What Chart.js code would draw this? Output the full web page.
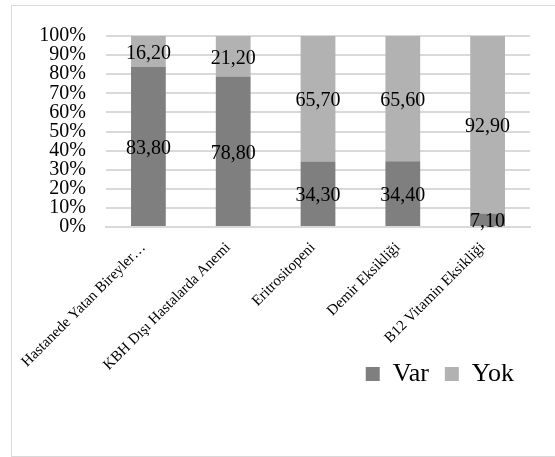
<!DOCTYPE html>
<html>
<head>
<meta charset="utf-8">
<script src="https://cdn.jsdelivr.net/npm/chart.js@4"></script>
<style>
  body { margin: 0; background: #fff; }
  #wrap {
    position: absolute; left: 11px; top: 5px;
    width: 560px; height: 452px;
    box-sizing: border-box; border: 1px solid #d9d9d9;
  }
</style>
</head>
<body>
<div id="wrap"><canvas id="chart1"></canvas></div>
<script>
const categories = ['Hastanede Yatan Bireyler…', 'KBH Dışı Hastalarda Anemi', 'Eritrositopeni', 'Demir Eksikliği', 'B12 Vitamin Eksikliği'];
const varValues = [83.8, 78.8, 34.3, 34.4, 7.1];
const yokValues = [16.2, 21.2, 65.7, 65.6, 92.9];
const yTicks = [0, 10, 20, 30, 40, 50, 60, 70, 80, 90, 100];

Chart.defaults.font.family = '"Liberation Serif", "Times New Roman", serif';
Chart.defaults.color = '#000';

// value labels in the middle of each segment
const valueLabels = {
    id: 'valueLabels',
    afterDatasetsDraw(chart) {
        const ctx = chart.ctx;
        ctx.save();
        ctx.font = '20px "Liberation Serif"';
        ctx.fillStyle = '#000';
        ctx.textAlign = 'center';
        ctx.textBaseline = 'middle';
        chart.data.datasets.forEach((ds, i) => {
            chart.getDatasetMeta(i).data.forEach((bar, j) => {
                const p = bar.getCenterPoint();
                ctx.fillText(ds.data[j].toFixed(2).replace('.', ','), p.x, p.y + 2.5);
            });
        });
        ctx.restore();
    }
};

const ctx1 = document.getElementById('chart1').getContext('2d');
const chart1 = new Chart(ctx1, {
    type: 'bar',
    data: {
        labels: categories,
        datasets: [{
            label: 'Var',
            data: varValues,
            backgroundColor: '#7f7f7f',
            barPercentage: 0.41,
            categoryPercentage: 1
        }, {
            label: 'Yok',
            data: yokValues,
            backgroundColor: '#b2b2b2',
            barPercentage: 0.41,
            categoryPercentage: 1
        }]
    },
    options: {
        responsive: true,
        maintainAspectRatio: false,
        animation: false,
        layout: {
            padding: { left: 27, right: 40, top: 26, bottom: 59 }
        },
        plugins: {
            legend: {
                display: true,
                position: 'bottom',
                align: 'end',
                labels: {
                    font: { size: 26 },
                    boxWidth: 14,
                    boxHeight: 14,
                    padding: 16
                }
            },
            tooltip: { enabled: false }
        },
        scales: {
            x: {
                stacked: true,
                grid: { display: false },
                border: { color: '#d9d9d9', width: 2 },
                ticks: {
                    minRotation: 45,
                    maxRotation: 45,
                    autoSkip: false,
                    padding: 4,
                    labelOffset: -5,
                    font: { size: 15 }
                },
                afterFit: (scale) => {
                    // let the rotated labels run past the plot edges like in Excel
                    scale.height = 118;
                    scale.paddingLeft = 0;
                    scale.paddingRight = 0;
                    scale._computeLabelArea = () => null;
                }
            },
            y: {
                stacked: true,
                min: 0,
                max: 100,
                afterBuildTicks: (scale) => { scale.ticks = yTicks.map(v => ({ value: v })); },
                afterFit: (scale) => { scale.width = 67; },
                grid: { color: '#d9d9d9', lineWidth: 2, drawTicks: false },
                border: { display: false },
                ticks: {
                    autoSkip: false,
                    padding: 20,
                    font: { size: 20, lineHeight: 1 },
                    callback: (v) => v + '%'
                }
            }
        }
    },
    plugins: [valueLabels]
});
</script>
</body>
</html>
